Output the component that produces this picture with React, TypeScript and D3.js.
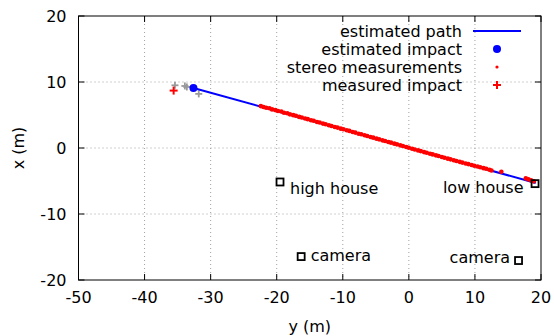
import React from "react";
import * as d3 from "d3";

const W = 554;
const H = 336;

const xTicks = [-50, -40, -30, -20, -10, 0, 10, 20];
const yTicks = [-20, -10, 0, 10, 20];

// estimated path (horizontal = y (m), vertical = x (m))
const pathY = [-32.6, 19.2];
const pathX = [9.1, -5.3];

const impactEstY = [-32.6];
const impactEstX = [9.1];

const impactMeasY = [-35.6];
const impactMeasX = [8.7];

const grayY = [-35.4, -33.9, -33.6, -31.8];
const grayX = [9.5, 9.4, 9.25, 8.2];

const stereoY = [
  -22.4, -22.0, -21.6, -21.1, -20.7, -20.2, -19.8, -19.3, -18.9, -18.4, -18.0, -17.5,
  -17.1, -16.6, -16.2, -15.7, -15.3, -14.8, -14.4, -13.9, -13.5, -13.0, -12.6, -12.1,
  -11.7, -11.2, -10.8, -10.3, -9.9, -9.4, -9.0, -8.5, -8.1, -7.6, -7.2, -6.7, -6.3,
  -5.8, -5.4, -4.9, -4.5, -4.0, -3.6, -3.1, -2.7, -2.2, -1.8, -1.3, -0.9, -0.4, 0.0,
  0.5, 0.9, 1.4, 1.8, 2.3, 2.7, 3.2, 3.6, 4.1, 4.5, 5.0, 5.4, 5.9, 6.3, 6.8, 7.2, 7.7,
  8.1, 8.6, 9.0, 9.5, 9.9, 10.4, 10.8, 11.3, 11.7, 12.2, 12.5, 14.0, 17.7, 18.1, 18.5,
  18.9,
];
const stereoX = [
  6.35, 6.22, 6.1, 6.02, 5.85, 5.74, 5.6, 5.52, 5.33, 5.26, 5.1, 4.98, 4.88, 4.71, 4.63,
  4.46, 4.37, 4.2, 4.12, 3.94, 3.86, 3.7, 3.6, 3.44, 3.34, 3.18, 3.09, 2.93, 2.84, 2.68,
  2.59, 2.43, 2.33, 2.17, 2.08, 1.93, 1.82, 1.66, 1.57, 1.42, 1.31, 1.16, 1.06, 0.91,
  0.81, 0.66, 0.55, 0.4, 0.3, 0.16, 0.03, -0.11, -0.22, -0.36, -0.47, -0.62, -0.72,
  -0.87, -0.97, -1.11, -1.22, -1.36, -1.47, -1.61, -1.72, -1.86, -1.97, -2.1, -2.21,
  -2.34, -2.44, -2.57, -2.68, -2.81, -2.92, -3.05, -3.15, -3.3, -3.4, -3.6, -4.6, -4.75,
  -4.9, -5.05,
];

// landmarks
const landmarkNames = ["high house", "camera", "camera", "low house"];
const landmarkY = [-19.5, -16.3, 16.6, 19.1];
const landmarkX = [-5.15, -16.45, -17.05, -5.4];
const landmarkSide = ["right", "right", "left", "left"];

const legendLabels = ["estimated path", "estimated impact", "stereo measurements", "measured impact"];

const FONT = "'DejaVu Sans', sans-serif";

export default function App() {
  const left = 78.5;
  const right = 541;
  const top = 16;
  const bottom = 280;
  const sx = d3.scaleLinear().domain([-50, 20]).range([left, right]);
  const sy = d3.scaleLinear().domain([-20, 20]).range([bottom, top]);

  const line = d3
    .line<number>()
    .x((_, i) => sx(pathY[i]))
    .y((_, i) => sy(pathX[i]));

  const plus = (cx: number, cy: number, s: number, color: string, sw: number, key: string) => (
    <g key={key} stroke={color} strokeWidth={sw}>
      <line x1={cx - s} x2={cx + s} y1={cy} y2={cy} />
      <line x1={cx} x2={cx} y1={cy - s} y2={cy + s} />
    </g>
  );

  const tickLen = 6;
  const fs = 16;

  const legX = 462;
  const legSample = 497;
  const legRows = [31, 49, 67, 85];

  const labelOffsets = [
    [10, 6],
    [9.5, -1.5],
    [-8.5, -3],
    [-11.5, 4],
  ];

  return (
    <svg
      width={W}
      height={H}
      style={{ position: "absolute", left: 0, top: 0, background: "#fff" }}
      fontFamily={FONT}
    >
      <rect x={0} y={0} width={W} height={H} fill="#fff" />
      {/* grid */}
      <g stroke="#a0a0a0" strokeWidth={1} strokeDasharray="1 3">
        {xTicks.slice(1, -1).map((t) => (
          <line key={"gx" + t} x1={sx(t)} x2={sx(t)} y1={top} y2={bottom} />
        ))}
        {yTicks.slice(1, -1).map((t) => (
          <line key={"gy" + t} x1={left} x2={right} y1={sy(t)} y2={sy(t)} />
        ))}
      </g>
      {/* ticks */}
      <g stroke="#000" strokeWidth={1}>
        {xTicks.map((t) => (
          <g key={"tx" + t}>
            <line x1={sx(t)} x2={sx(t)} y1={bottom} y2={bottom - tickLen} />
            <line x1={sx(t)} x2={sx(t)} y1={top} y2={top + tickLen} />
          </g>
        ))}
        {yTicks.map((t) => (
          <g key={"ty" + t}>
            <line x1={left} x2={left + tickLen} y1={sy(t)} y2={sy(t)} />
            <line x1={right} x2={right - tickLen} y1={sy(t)} y2={sy(t)} />
          </g>
        ))}
      </g>
      {/* tick labels */}
      <g fontSize={fs} fill="#000">
        {xTicks.map((t) => (
          <text key={"lx" + t} x={sx(t)} y={bottom + 17.5} textAnchor="middle" dy="0.35em">
            {t}
          </text>
        ))}
        {yTicks.map((t) => (
          <text key={"ly" + t} x={left - 12} y={sy(t)} textAnchor="end" dy="0.35em">
            {t}
          </text>
        ))}
      </g>
      <text x={(left + right) / 2} y={326} fontSize={fs} textAnchor="middle" dy="0.35em">
        y (m)
      </text>
      <text
        transform={`translate(18,${(top + bottom) / 2}) rotate(-90)`}
        fontSize={fs}
        textAnchor="middle"
        dy="0.35em"
      >
        x (m)
      </text>

      {/* gray samples */}
      {grayY.map((v, i) => plus(sx(v), sy(grayX[i]), 3.5, "#999", 1.8, "g" + i))}

      {/* estimated path */}
      <path d={line(pathY) || ""} fill="none" stroke="#0000ff" strokeWidth={2} />

      {/* stereo measurements */}
      <g fill="#ff0000">
        {stereoY.map((v, i) => (
          <circle key={"s" + i} cx={sx(v)} cy={sy(stereoX[i])} r={2.3} />
        ))}
      </g>

      {/* impacts */}
      {impactEstY.map((v, i) => (
        <circle key={"ie" + i} cx={sx(v)} cy={sy(impactEstX[i])} r={4} fill="#0000ff" />
      ))}
      {impactMeasY.map((v, i) => plus(sx(v), sy(impactMeasX[i]), 4, "#ff0000", 2, "im" + i))}

      {/* landmarks */}
      {landmarkY.map((v, i) => {
        const cx = sx(v);
        const cy = sy(landmarkX[i]);
        const isRight = landmarkSide[i] === "right";
        const [dxLab, dyLab] = labelOffsets[i];
        return (
          <g key={"lm" + i}>
            <rect x={cx - 3.5} y={cy - 3.5} width={7} height={7} fill="none" stroke="#000" strokeWidth={1.8} />
            <text
              x={cx + dxLab}
              y={cy + dyLab}
              fontSize={fs}
              textAnchor={isRight ? "start" : "end"}
              dy="0.35em"
            >
              {landmarkNames[i]}
            </text>
          </g>
        );
      })}

      {/* legend */}
      <g fontSize={fs}>
        {legendLabels.map((l, i) => (
          <text key={"leg" + i} x={legX} y={legRows[i]} textAnchor="end" dy="0.35em">
            {l}
          </text>
        ))}
        <line x1={473} x2={521} y1={legRows[0]} y2={legRows[0]} stroke="#0000ff" strokeWidth={2} />
        <circle cx={legSample} cy={legRows[1]} r={4} fill="#0000ff" />
        <circle cx={legSample} cy={legRows[2]} r={1.6} fill="#ff0000" />
        {plus(legSample, legRows[3], 4, "#ff0000", 2, "legp")}
      </g>

      {/* border */}
      <rect x={left} y={top} width={right - left} height={bottom - top} fill="none" stroke="#000" strokeWidth={1} />
    </svg>
  );
}
